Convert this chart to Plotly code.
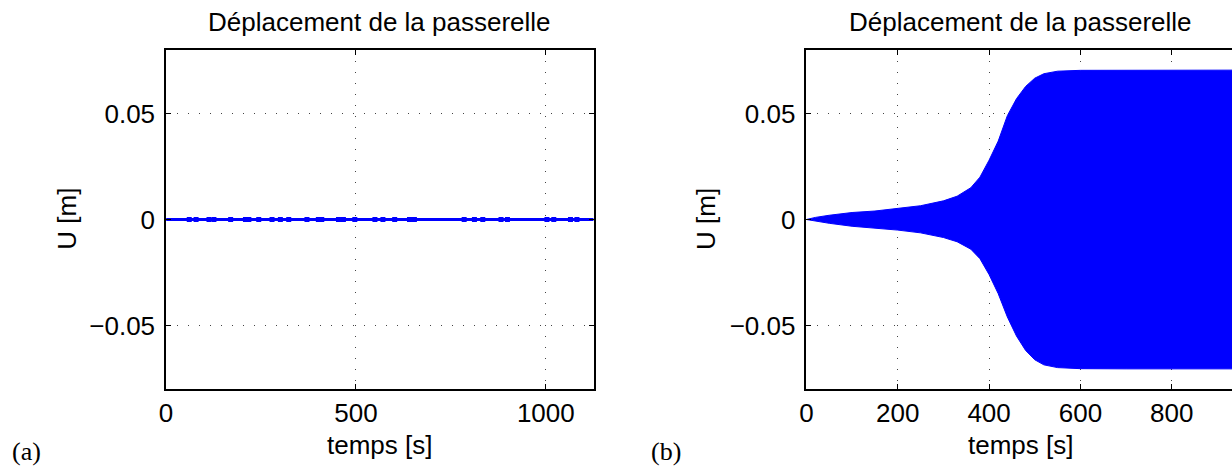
import plotly.graph_objects as go

W, H = 1232, 470

# --- (a) footbridge displacement: stays at zero, with small bursts ---
t_a = [0, 1126]
u_a = [0.0, 0.0]
burst_t = [61, 79, 113, 126, 170, 209, 218, 244, 279, 301, 323, 371, 401, 410,
           454, 467, 497, 550, 571, 602, 641, 654, 785, 812, 834, 882, 899,
           1003, 1021, 1065, 1082]
burst_u = [0.0] * len(burst_t)

# --- (b) footbridge displacement: envelope of the oscillation ---
t_b = [0, 20, 50, 100, 150, 200, 250, 300, 330, 360, 380, 400, 420, 440,
       460, 480, 500, 520, 550, 600, 700, 800, 932]
u_b_upper = [0.0, 0.0010, 0.0020, 0.0033, 0.0040, 0.0051, 0.0065, 0.0088,
             0.0110, 0.0150, 0.0200, 0.0280, 0.0370, 0.0490, 0.0570, 0.0628,
             0.0667, 0.0688, 0.0700, 0.0704, 0.0705, 0.0705, 0.0705]
u_b_lower = [0.0, -0.0008, -0.0018, -0.0032, -0.0040, -0.0050, -0.0063,
             -0.0085, -0.0105, -0.0140, -0.0185, -0.0260, -0.0350, -0.0460,
             -0.0550, -0.0618, -0.0662, -0.0686, -0.0699, -0.0704, -0.0705,
             -0.0705, -0.0705]

y_ticks = [-0.05, 0, 0.05]
y_ticktext = ["\u22120.05", "0", "0.05"]
x_ticks_a = [0, 500, 1000]
x_ticks_b = [0, 200, 400, 600, 800]

TITLE = "Déplacement de la passerelle"
XLABEL = "temps [s]"
YLABEL = "U [m]"

BLUE = "#0000ff"
SANS = "Liberation Sans, Arial, Helvetica, sans-serif"
SERIF = "Liberation Serif, DejaVu Serif, serif"
FS = 26

fig = go.Figure()

# (a)
fig.add_trace(go.Scatter(x=t_a, y=u_a, mode="lines", xaxis="x", yaxis="y",
                         line=dict(color=BLUE, width=3), showlegend=False))
fig.add_trace(go.Scatter(x=burst_t, y=burst_u, mode="markers", xaxis="x", yaxis="y",
                         marker=dict(color=BLUE, symbol="square", size=5, line=dict(width=0)),
                         showlegend=False))

# (b) upper then lower envelope, filled between them
fig.add_trace(go.Scatter(x=t_b, y=u_b_upper, mode="lines", xaxis="x2", yaxis="y2",
                         line=dict(color=BLUE, width=1), showlegend=False))
fig.add_trace(go.Scatter(x=t_b, y=u_b_lower, mode="lines", xaxis="x2", yaxis="y2",
                         line=dict(color=BLUE, width=1), fill="tonexty",
                         fillcolor=BLUE, showlegend=False))

y_dom = [1 - 389 / H, 1 - 50 / H]
xa_dom = [160 / W, 590 / W]
xb_dom = [804 / W, 1.0]

common = dict(
    showline=True, linecolor="black", linewidth=1.6,
    ticks="inside", ticklen=5, tickwidth=1, tickcolor="black",
    showgrid=True, gridcolor="#444444", gridwidth=1, griddash="1px,10px",
    zeroline=False, tickfont=dict(family=SANS, size=FS, color="black"),
)

fig.update_layout(
    width=W, height=H,
    margin=dict(l=0, r=0, t=0, b=0),
    paper_bgcolor="white", plot_bgcolor="white",
    xaxis=dict(domain=xa_dom, anchor="y", range=[0, 1126], tickvals=x_ticks_a,
               mirror="allticks", **common),
    yaxis=dict(domain=y_dom, anchor="x", range=[-0.08, 0.08], tickvals=y_ticks,
               ticktext=y_ticktext, mirror="allticks", ticklabelstandoff=4, **common),
    xaxis2=dict(domain=xb_dom, anchor="y2", range=[0, 932], tickvals=x_ticks_b,
                mirror="allticks", **common),
    yaxis2=dict(domain=y_dom, anchor="x2", range=[-0.08, 0.08], tickvals=y_ticks,
                ticktext=y_ticktext, mirror=False, ticklabelstandoff=4, **common),
)

ann = []
for cx, ylab_x, tag, tag_x in [(375, 60, "(a)", 20), (1019, 703, "(b)", 663)]:
    ann.append(dict(text=TITLE, x=cx / W, y=1 - 22 / H, xref="paper", yref="paper",
                    showarrow=False, xanchor="center", yanchor="middle",
                    font=dict(family=SANS, size=FS, color="black")))
    ann.append(dict(text=XLABEL, x=cx / W, y=1 - 445 / H, xref="paper", yref="paper",
                    showarrow=False, xanchor="center", yanchor="middle",
                    font=dict(family=SANS, size=FS, color="black")))
    ann.append(dict(text=YLABEL, x=ylab_x / W, y=1 - 219 / H, xref="paper", yref="paper",
                    showarrow=False, xanchor="center", yanchor="middle", textangle=-90,
                    font=dict(family=SANS, size=FS, color="black")))
    ann.append(dict(text=tag, x=tag_x / W, y=1 - 451 / H, xref="paper", yref="paper",
                    showarrow=False, xanchor="center", yanchor="middle",
                    font=dict(family=SERIF, size=26, color="black")))
fig.update_layout(annotations=ann)

fig.write_html("out.html")
